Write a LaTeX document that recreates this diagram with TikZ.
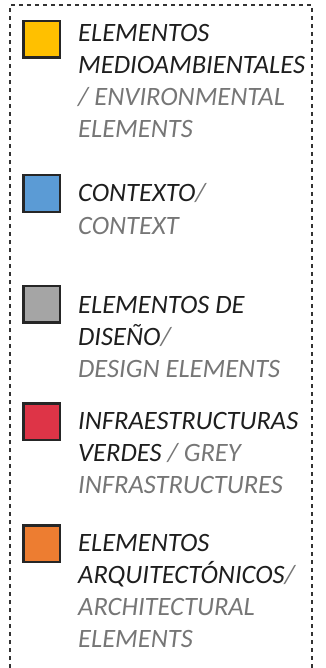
\documentclass[tikz,border=0pt]{standalone}
\usepackage{fontspec}
\setmainfont{Carlito}
\definecolor{txtblack}{HTML}{1E1E1E}
\definecolor{txtgrey}{HTML}{767676}
\definecolor{cyellow}{HTML}{FFC000}
\definecolor{cblue}{HTML}{5B9BD5}
\definecolor{cgrey}{HTML}{A5A5A5}
\definecolor{cred}{HTML}{DE3447}
\definecolor{corange}{HTML}{ED7D31}
\definecolor{sqborder}{HTML}{262626}
\definecolor{frame}{HTML}{333333}
\begin{document}
\begin{tikzpicture}[x=1pt,y=-1pt,
  swatch/.style={draw=sqborder,line width=2.5pt,minimum size=36.5pt,inner sep=0pt},
  lbl/.style={anchor=base west,inner sep=0pt,font=\fontsize{26.5}{32}\selectfont\itshape,text=txtblack},
  gr/.style={text=txtgrey},
  frameline/.style={draw=frame,line width=1.4pt,dash pattern=on 4pt off 4pt}]
\useasboundingbox (0,0) rectangle (325,668);
% frame
\coordinate (fbl) at (10,668);
\coordinate (ftl) at (10,5);
\coordinate (ftr) at (312,5);
\coordinate (fbr) at (312,668);
\draw[frameline] (fbl) -- (ftl) -- (ftr) -- (fbr);
% swatches
\node[swatch,fill=cyellow] (s1) at (41.5,39.5) {};
\node[swatch,fill=cblue] (s2) at (41.5,193.5) {};
\node[swatch,fill=cgrey] (s3) at (41.5,304) {};
\node[swatch,fill=cred] (s4) at (41.5,421.5) {};
\node[swatch,fill=corange] (s5) at (41.5,543.5) {};
% entry 1
\node[lbl] (t1a) at (78,42) {ELEMENTOS};
\node[lbl] (t1b) at (78,74) {MEDIOAMBIENTALES};
\node[lbl,gr] (t1c) at (78,106) {/ ENVIRONMENTAL};
\node[lbl,gr] (t1d) at (78,138) {ELEMENTS};
% entry 2
\node[lbl] (t2a) at (78,202) {CONTEXTO\textcolor{txtgrey}{/}};
\node[lbl,gr] (t2b) at (78,234) {CONTEXT};
% entry 3
\node[lbl] (t3a) at (78,313) {ELEMENTOS DE};
\node[lbl] (t3b) at (78,345) {DISEÑO\textcolor{txtgrey}{/}};
\node[lbl,gr] (t3c) at (78,377) {DESIGN ELEMENTS};
% entry 4
\node[lbl] (t4a) at (78,429) {INFRAESTRUCTURAS};
\node[lbl] (t4b) at (78,461) {VERDES \textcolor{txtgrey}{/ GREY}};
\node[lbl,gr] (t4c) at (78,493) {INFRASTRUCTURES};
% entry 5
\node[lbl] (t5a) at (78,551) {ELEMENTOS};
\node[lbl] (t5b) at (78,583) {ARQUITECTÓNICOS\textcolor{txtgrey}{/}};
\node[lbl,gr] (t5c) at (78,615) {ARCHITECTURAL};
\node[lbl,gr] (t5d) at (78,647) {ELEMENTS};
\end{tikzpicture}
\end{document}
